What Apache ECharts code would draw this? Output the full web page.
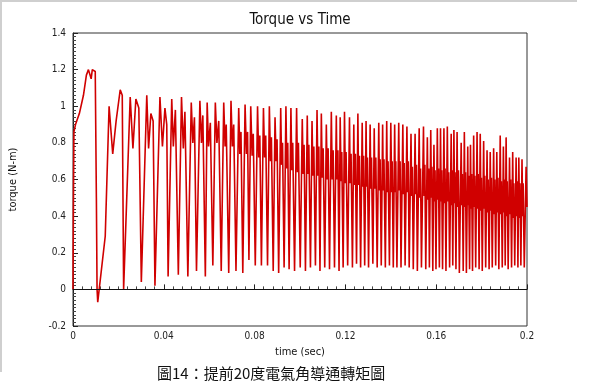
<!DOCTYPE html>
<html><head><meta charset="utf-8">
<script src="https://cdn.jsdelivr.net/npm/echarts@6/dist/echarts.min.js"></script>
<style>html,body{margin:0;padding:0;background:#fff}#c{width:600px;height:388px}</style>
</head><body><div id="c"></div>
<script>
const chartTitle = 'Torque vs Time';
const xName = 'time (sec)';
const yName = 'torque (N-m)';
const caption = '圖14：提前20度電氣角導通轉矩圖';
const xAxisRange = [0, 0.2, 0.04];
const yAxisRange = [-0.2, 1.4, 0.2];

// time in milliseconds
const timeMs = [
  0, 0.2, 0.4, 1.1, 2.8, 4.6, 5.9, 6.8, 7.4, 8.0, 8.5, 9.8, 10.3, 10.6, 10.9, 14.2, 15.9, 17.5, 19.0, 20.8, 21.7, 22.3,
  25.2, 26.4, 27.7, 29.0, 30.1,
  32.5, 33.3, 34.3, 35.3, 36.1,
  38.3, 39.4, 40.5, 41.3, 41.9,
  43.5, 44.2, 45.1, 46.4,
  47.8, 48.6, 49.3, 50.6,
  52.1, 52.8, 53.5, 54.4,
  55.9, 56.6, 57.2, 58.3,
  59.1, 59.7, 60.5, 61.6,
  62.7, 63.4, 64.2, 65.3,
  66.4, 67.0, 67.5, 68.6,
  69.6, 70.2, 70.8, 71.8,
  73.0, 73.5, 74.0, 74.8,
  75.8, 76.4, 76.9, 77.5,
  78.3, 78.9, 79.4, 80.3,
  81.3, 81.8, 82.3, 83.0,
  83.9, 84.4, 84.9, 85.7,
  86.5, 87.0, 87.4, 88.2,
  89.0, 89.5, 89.9, 90.6,
  91.5, 91.9, 92.3, 93.0,
  93.8, 94.2, 94.6, 95.2,
  96.0, 96.4, 96.8, 97.6,
  98.5, 98.9, 99.3, 100.1,
  101.0, 101.4, 101.8, 102.4,
  103.2, 103.5, 103.9, 104.6,
  105.3, 105.7, 106.1, 106.8,
  107.5, 107.9, 108.3, 108.8,
  109.4, 109.8, 110.2, 110.9,
  111.6, 112.0, 112.4, 113.0,
  113.8, 114.2, 114.6, 115.2,
  116.0, 116.3, 116.7, 117.2,
  117.7, 118.1, 118.4, 119.0,
  119.6, 120.0, 120.3, 121.0,
  121.8, 122.1, 122.5, 123.1,
  123.7, 124.0, 124.4, 124.9,
  125.5, 125.8, 126.2, 126.7,
  127.4, 127.7, 128.0, 128.5,
  129.1, 129.4, 129.7, 130.2,
  130.9, 131.2, 131.5, 132.1,
  132.7, 133.0, 133.4, 134.0,
  134.7, 135.0, 135.3, 135.8,
  136.4, 136.7, 137.0, 137.6,
  138.2, 138.5, 138.8, 139.4,
  140.0, 140.4, 140.6, 141.1,
  141.7, 142.0, 142.2, 142.7,
  143.5, 143.8, 144.1, 144.5,
  145.3, 145.6, 145.9, 146.3,
  147.1, 147.4, 147.7, 148.1,
  148.9, 149.2, 149.5, 149.9,
  150.7, 151.0, 151.3, 151.7,
  152.5, 152.8, 153.1, 153.5,
  154.4, 154.7, 155.0, 155.4,
  156.1, 156.4, 156.7, 157.0,
  157.6, 157.9, 158.1, 158.5,
  159.0, 159.3, 159.5, 159.9,
  160.5, 160.8, 161.0, 161.4,
  161.9, 162.2, 162.4, 162.8,
  163.4, 163.7, 163.9, 164.3,
  164.9, 165.2, 165.5, 165.9,
  166.6, 166.8, 167.0, 167.3,
  167.8, 168.1, 168.3, 168.7,
  169.2, 169.5, 169.8, 170.2,
  171.0, 171.3, 171.5, 171.9,
  172.4, 172.7, 172.9, 173.3,
  173.9, 174.1, 174.3, 174.7,
  175.1, 175.4, 175.6, 176.0,
  176.5, 176.8, 177.0, 177.4,
  178.0, 178.3, 178.5, 178.9,
  179.4, 179.7, 179.9, 180.3,
  180.9, 181.2, 181.4, 181.8,
  182.4, 182.7, 182.9, 183.3,
  183.8, 184.1, 184.3, 184.7,
  185.3, 185.6, 185.8, 186.2,
  186.7, 187.0, 187.2, 187.6,
  188.2, 188.5, 188.7, 189.1,
  189.6, 189.9, 190.1, 190.4,
  190.8, 191.1, 191.3, 191.7,
  192.3, 192.6, 192.8, 193.2,
  193.7, 194.0, 194.2, 194.6,
  195.2, 195.5, 195.7, 196.0,
  196.4, 196.7, 196.9, 197.3,
  197.8, 198.1, 198.3, 198.8,
  199.6, 200.0
];

// torque in N-m
const torque = [
  0, 0.5, 0.86, 0.9, 0.96, 1.06, 1.17, 1.2, 1.19, 1.15, 1.2, 1.19, 0.5, 0.0, -0.07, 0.29, 1.0, 0.74, 0.92, 1.09, 1.06, 0.0,
  1.05, 0.77, 1.04, 0.99, 0.04,
  1.06, 0.77, 0.96, 0.92, 0.02,
  1.05, 0.78, 0.99, 0.90, 0.07,
  1.04, 0.78, 0.98, 0.08,
  1.05, 0.77, 0.97, 0.07,
  1.02, 0.80, 0.94, 0.10,
  1.03, 0.80, 0.95, 0.07,
  1.02, 0.78, 0.91, 0.13,
  1.02, 0.80, 0.92, 0.10,
  1.02, 0.78, 0.90, 0.09,
  1.03, 0.78, 0.90, 0.10,
  0.99, 0.74, 0.86, 0.09,
  1.01, 0.74, 0.86, 0.16,
  1.00, 0.73, 0.85, 0.13,
  1.00, 0.72, 0.84, 0.13,
  0.99, 0.72, 0.84, 0.13,
  1.00, 0.70, 0.83, 0.10,
  0.94, 0.70, 0.82, 0.09,
  0.99, 0.68, 0.80, 0.12,
  1.00, 0.66, 0.80, 0.11,
  0.99, 0.65, 0.80, 0.10,
  0.99, 0.64, 0.80, 0.12,
  0.93, 0.63, 0.79, 0.10,
  0.95, 0.63, 0.79, 0.12,
  0.92, 0.62, 0.78, 0.13,
  0.98, 0.62, 0.78, 0.10,
  0.96, 0.61, 0.77, 0.12,
  0.90, 0.60, 0.77, 0.11,
  0.97, 0.60, 0.76, 0.12,
  0.95, 0.60, 0.76, 0.10,
  0.94, 0.59, 0.75, 0.12,
  0.97, 0.58, 0.75, 0.13,
  0.94, 0.58, 0.74, 0.12,
  0.90, 0.57, 0.74, 0.14,
  0.96, 0.57, 0.73, 0.12,
  0.91, 0.56, 0.73, 0.13,
  0.92, 0.56, 0.72, 0.12,
  0.90, 0.55, 0.72, 0.14,
  0.88, 0.55, 0.72, 0.12,
  0.91, 0.54, 0.71, 0.13,
  0.90, 0.54, 0.71, 0.12,
  0.92, 0.53, 0.70, 0.13,
  0.91, 0.53, 0.70, 0.12,
  0.90, 0.53, 0.70, 0.12,
  0.91, 0.54, 0.70, 0.12,
  0.90, 0.52, 0.69, 0.13,
  0.89, 0.53, 0.70, 0.12,
  0.85, 0.51, 0.67, 0.11,
  0.85, 0.52, 0.68, 0.10,
  0.88, 0.50, 0.66, 0.12,
  0.89, 0.51, 0.68, 0.11,
  0.83, 0.49, 0.66, 0.12,
  0.87, 0.50, 0.67, 0.10,
  0.79, 0.48, 0.65, 0.11,
  0.88, 0.49, 0.66, 0.12,
  0.88, 0.48, 0.65, 0.11,
  0.88, 0.47, 0.66, 0.10,
  0.89, 0.48, 0.64, 0.12,
  0.85, 0.46, 0.65, 0.13,
  0.87, 0.47, 0.64, 0.11,
  0.86, 0.45, 0.65, 0.09,
  0.80, 0.46, 0.63, 0.10,
  0.86, 0.45, 0.64, 0.09,
  0.78, 0.46, 0.62, 0.11,
  0.79, 0.44, 0.63, 0.10,
  0.84, 0.45, 0.62, 0.12,
  0.86, 0.44, 0.63, 0.11,
  0.85, 0.43, 0.61, 0.10,
  0.81, 0.44, 0.62, 0.12,
  0.76, 0.42, 0.60, 0.11,
  0.75, 0.43, 0.61, 0.12,
  0.77, 0.41, 0.60, 0.13,
  0.75, 0.42, 0.61, 0.11,
  0.84, 0.41, 0.59, 0.12,
  0.78, 0.42, 0.60, 0.13,
  0.83, 0.40, 0.59, 0.11,
  0.72, 0.41, 0.60, 0.12,
  0.75, 0.39, 0.58, 0.13,
  0.72, 0.40, 0.59, 0.12,
  0.72, 0.39, 0.58, 0.13,
  0.71, 0.40, 0.58, 0.12,
  0.67, 0.45
];

const chart = echarts.init(document.getElementById('c'), null, {renderer: 'canvas'});
const seriesData = timeMs.map((t, i) => [t / 1000, torque[i]]);
const axisFont = "'Liberation Sans Narrow','DejaVu Sans Condensed','Liberation Sans',sans-serif";

chart.setOption({
  animation: false,
  backgroundColor: '#ffffff',
  title: {
    text: chartTitle, left: 'center', top: 8,
    textStyle: {fontSize: 15, fontWeight: 'normal', color: '#111', fontFamily: axisFont}
  },
  grid: {left: 70, top: 33, width: 457, height: 293, show: true, borderColor: '#333', borderWidth: 1, backgroundColor: 'transparent'},
  xAxis: {
    type: 'value', min: xAxisRange[0], max: xAxisRange[1], interval: xAxisRange[2],
    name: xName, nameLocation: 'middle', nameGap: 21,
    nameTextStyle: {fontSize: 11, color: '#111', fontFamily: axisFont},
    axisLine: {show: true, lineStyle: {color: '#222', width: 1}},
    axisTick: {show: true, inside: true, length: 5, lineStyle: {color: '#222'}},
    minorTick: {show: true, splitNumber: 10, length: 3, lineStyle: {color: '#444'}},
    splitLine: {show: false},
    axisLabel: {fontSize: 10, color: '#222', margin: 5, fontFamily: axisFont}
  },
  yAxis: {
    type: 'value', min: yAxisRange[0], max: yAxisRange[1], interval: yAxisRange[2],
    name: yName, nameLocation: 'middle', nameGap: 54, nameRotate: 90,
    nameTextStyle: {fontSize: 11, color: '#111', fontFamily: axisFont},
    axisLine: {show: true, lineStyle: {color: '#222', width: 1}},
    axisTick: {show: true, inside: true, length: 5, lineStyle: {color: '#222'}},
    minorTick: {show: true, splitNumber: 10, length: 3, lineStyle: {color: '#444'}},
    splitLine: {show: false},
    axisLabel: {fontSize: 10, color: '#222', margin: 7, fontFamily: axisFont}
  },
  series: [{
    type: 'line', data: seriesData, symbol: 'none', showSymbol: false, sampling: null,
    lineStyle: {color: '#d00000', width: 1.6},
    markLine: {
      silent: true, symbol: ['none', 'none'], animation: false,
      label: {show: false},
      lineStyle: {color: '#111', width: 1, type: 'solid'},
      data: [{yAxis: 0}]
    }
  }],
  graphic: [
    {type: 'line', shape: {x1: 0, y1: 1, x2: 577, y2: 1}, style: {stroke: '#cfcfcf', lineWidth: 2}},
    {type: 'line', shape: {x1: 1, y1: 0, x2: 1, y2: 372}, style: {stroke: '#cfcfcf', lineWidth: 2}},
    {type: 'text', left: 157, top: 366,
     style: {text: caption, fontSize: 15, fill: '#111', fontFamily: "'Noto Sans CJK TC','Noto Sans CJK SC',sans-serif"}}
  ]
});
</script>
</body></html>
